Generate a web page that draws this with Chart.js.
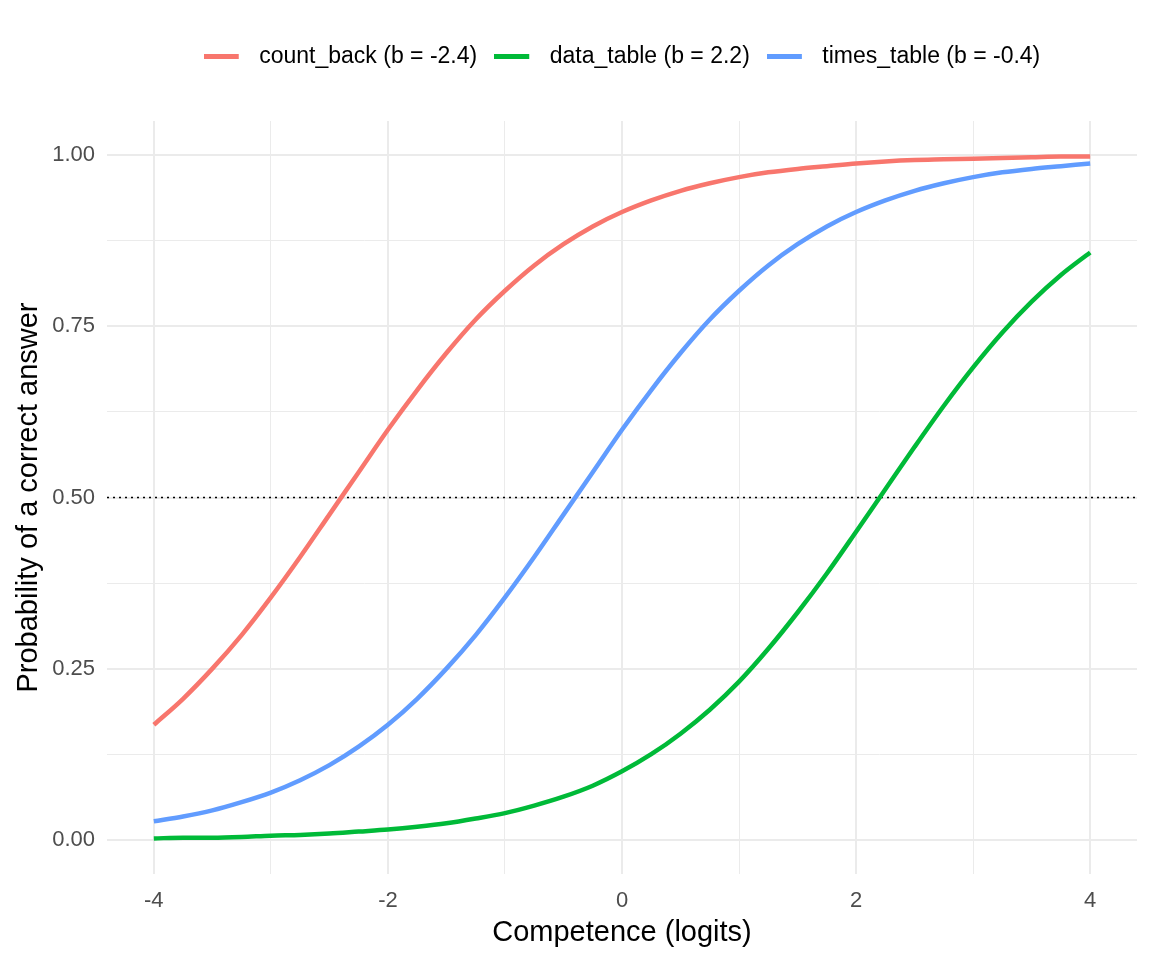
<!DOCTYPE html>
<html>
<head>
<meta charset="utf-8">
<script src="https://cdn.jsdelivr.net/npm/chart.js@4/dist/chart.umd.min.js"></script>
<style>
  html, body { margin: 0; padding: 0; background: #fff; }
  #wrap { width: 1152px; height: 960px; }
</style>
</head>
<body>
<div id="wrap"><canvas id="grafico" width="1152" height="960"></canvas></div>
<script>
// valores (competência em logits, passo de 0.25)
const competencia = [-4, -3.75, -3.5, -3.25, -3, -2.75, -2.5, -2.25, -2, -1.75, -1.5, -1.25, -1, -0.75, -0.5, -0.25,
    0, 0.25, 0.5, 0.75, 1, 1.25, 1.5, 1.75, 2, 2.25, 2.5, 2.75, 3, 3.25, 3.5, 3.75, 4];
const countBack = [0.168, 0.206, 0.250, 0.299, 0.354, 0.413, 0.475, 0.537, 0.599, 0.657, 0.711, 0.760, 0.802, 0.839, 0.870, 0.896,
    0.917, 0.934, 0.948, 0.959, 0.968, 0.975, 0.980, 0.984, 0.988, 0.991, 0.993, 0.994, 0.995, 0.996, 0.997, 0.998, 0.998];
const dataTable = [0.002, 0.003, 0.003, 0.004, 0.006, 0.007, 0.009, 0.012, 0.015, 0.019, 0.024, 0.031, 0.039, 0.050, 0.063, 0.079,
    0.100, 0.125, 0.155, 0.190, 0.231, 0.279, 0.332, 0.389, 0.450, 0.512, 0.574, 0.634, 0.690, 0.741, 0.786, 0.825, 0.858];
const timesTable = [0.027, 0.034, 0.043, 0.055, 0.069, 0.087, 0.109, 0.136, 0.168, 0.206, 0.250, 0.299, 0.354, 0.413, 0.475, 0.537,
    0.599, 0.657, 0.711, 0.760, 0.802, 0.839, 0.870, 0.896, 0.917, 0.934, 0.948, 0.959, 0.968, 0.975, 0.980, 0.984, 0.988];

const nomesSeries = ['count_back (b = -2.4)', 'data_table (b = 2.2)', 'times_table (b = -0.4)'];
const coresSeries = ['#F8766D', '#00BA38', '#619CFF'];

const linhaReferencia = 0.5;
const limitesX = [-4.4, 4.4];
const limitesY = [-0.05, 1.05];

const ticksX = [-4, -3, -2, -1, 0, 1, 2, 3, 4];
const rotulosX = ['-4', '', '-2', '', '0', '', '2', '', '4'];
const ticksY = [0, 0.125, 0.25, 0.375, 0.5, 0.625, 0.75, 0.875, 1];
const rotulosY = ['0.00', '', '0.25', '', '0.50', '', '0.75', '', '1.00'];

const fonte = '"Liberation Sans", Arial, sans-serif';

const pontos = (ys) => competencia.map((x, i) => ({ x: x, y: ys[i] }));

// chave da legenda: traço grosso com folga à direita
const chaveLegenda = (cor) => {
    const c = document.createElement('canvas');
    c.width = 44;
    c.height = 5;
    const g = c.getContext('2d');
    g.fillStyle = cor;
    g.fillRect(0, 0, 35, 5);
    return c;
};

const serie = (i, ys) => ({
    label: nomesSeries[i],
    data: pontos(ys),
    borderColor: coresSeries[i],
    backgroundColor: coresSeries[i],
    borderWidth: 4.5,
    pointRadius: 0,
    cubicInterpolationMode: 'monotone',
    fill: false
});

// espaço extra entre a legenda e o painel
const folgaLegenda = {
    id: 'folgaLegenda',
    beforeLayout(chart) {
        const lg = chart.legend;
        if (lg && !lg._folga) {
            const fitOriginal = lg.fit.bind(lg);
            lg.fit = function() {
                fitOriginal();
                this.height += 43;
            };
            lg._folga = true;
        }
    }
};

const ctx = document.getElementById('grafico').getContext('2d');

new Chart(ctx, {
    type: 'line',
    data: {
        datasets: [
            serie(0, countBack),
            serie(1, dataTable),
            serie(2, timesTable),
            {
                label: 'ref',
                data: [{ x: limitesX[0], y: linhaReferencia }, { x: limitesX[1], y: linhaReferencia }],
                borderColor: '#000',
                borderWidth: 1.6,
                borderDash: [2, 4],
                pointRadius: 0,
                fill: false
            }
        ]
    },
    plugins: [folgaLegenda],
    options: {
        responsive: false,
        animation: false,
        devicePixelRatio: 1,
        layout: { padding: { top: 28, right: 15, bottom: 0, left: 0 } },
        plugins: {
            tooltip: { enabled: false },
            legend: {
                position: 'top',
                fullSize: false,
                labels: {
                    usePointStyle: true,
                    pointStyleWidth: 44,
                    padding: 17,
                    color: '#000',
                    font: { family: fonte, size: 23 },
                    generateLabels: (chart) => {
                        const itens = Chart.defaults.plugins.legend.labels.generateLabels(chart);
                        return itens.filter(it => it.datasetIndex < 3).map(it => {
                            it.pointStyle = chaveLegenda(coresSeries[it.datasetIndex]);
                            return it;
                        });
                    }
                }
            }
        },
        scales: {
            x: {
                type: 'linear',
                min: limitesX[0],
                max: limitesX[1],
                afterBuildTicks: (scale) => { scale.ticks = ticksX.map(v => ({ value: v })); },
                afterFit: (scale) => { scale.height = 86; },
                border: { display: false },
                grid: {
                    drawTicks: false,
                    color: '#EBEBEB',
                    lineWidth: (c) => (c.index % 2 === 0 ? 2 : 1)
                },
                ticks: {
                    padding: 14,
                    color: '#4D4D4D',
                    font: { family: fonte, size: 22 },
                    callback: (v, i) => rotulosX[i]
                },
                title: {
                    display: true,
                    text: 'Competence (logits)',
                    color: '#000',
                    font: { family: fonte, size: 29 },
                    padding: { top: 0, bottom: 10 }
                }
            },
            y: {
                type: 'linear',
                min: limitesY[0],
                max: limitesY[1],
                afterBuildTicks: (scale) => { scale.ticks = ticksY.map(v => ({ value: v })); },
                afterFit: (scale) => { scale.width = 107; },
                border: { display: false },
                grid: {
                    drawTicks: false,
                    color: '#EBEBEB',
                    lineWidth: (c) => (c.index % 2 === 0 ? 2 : 1)
                },
                ticks: {
                    padding: 12,
                    color: '#4D4D4D',
                    font: { family: fonte, size: 22 },
                    callback: (v, i) => rotulosY[i]
                },
                title: {
                    display: true,
                    text: 'Probability of a correct answer',
                    color: '#000',
                    font: { family: fonte, size: 29 },
                    padding: { top: 12, bottom: 0 }
                }
            }
        }
    }
});
</script>
</body>
</html>
